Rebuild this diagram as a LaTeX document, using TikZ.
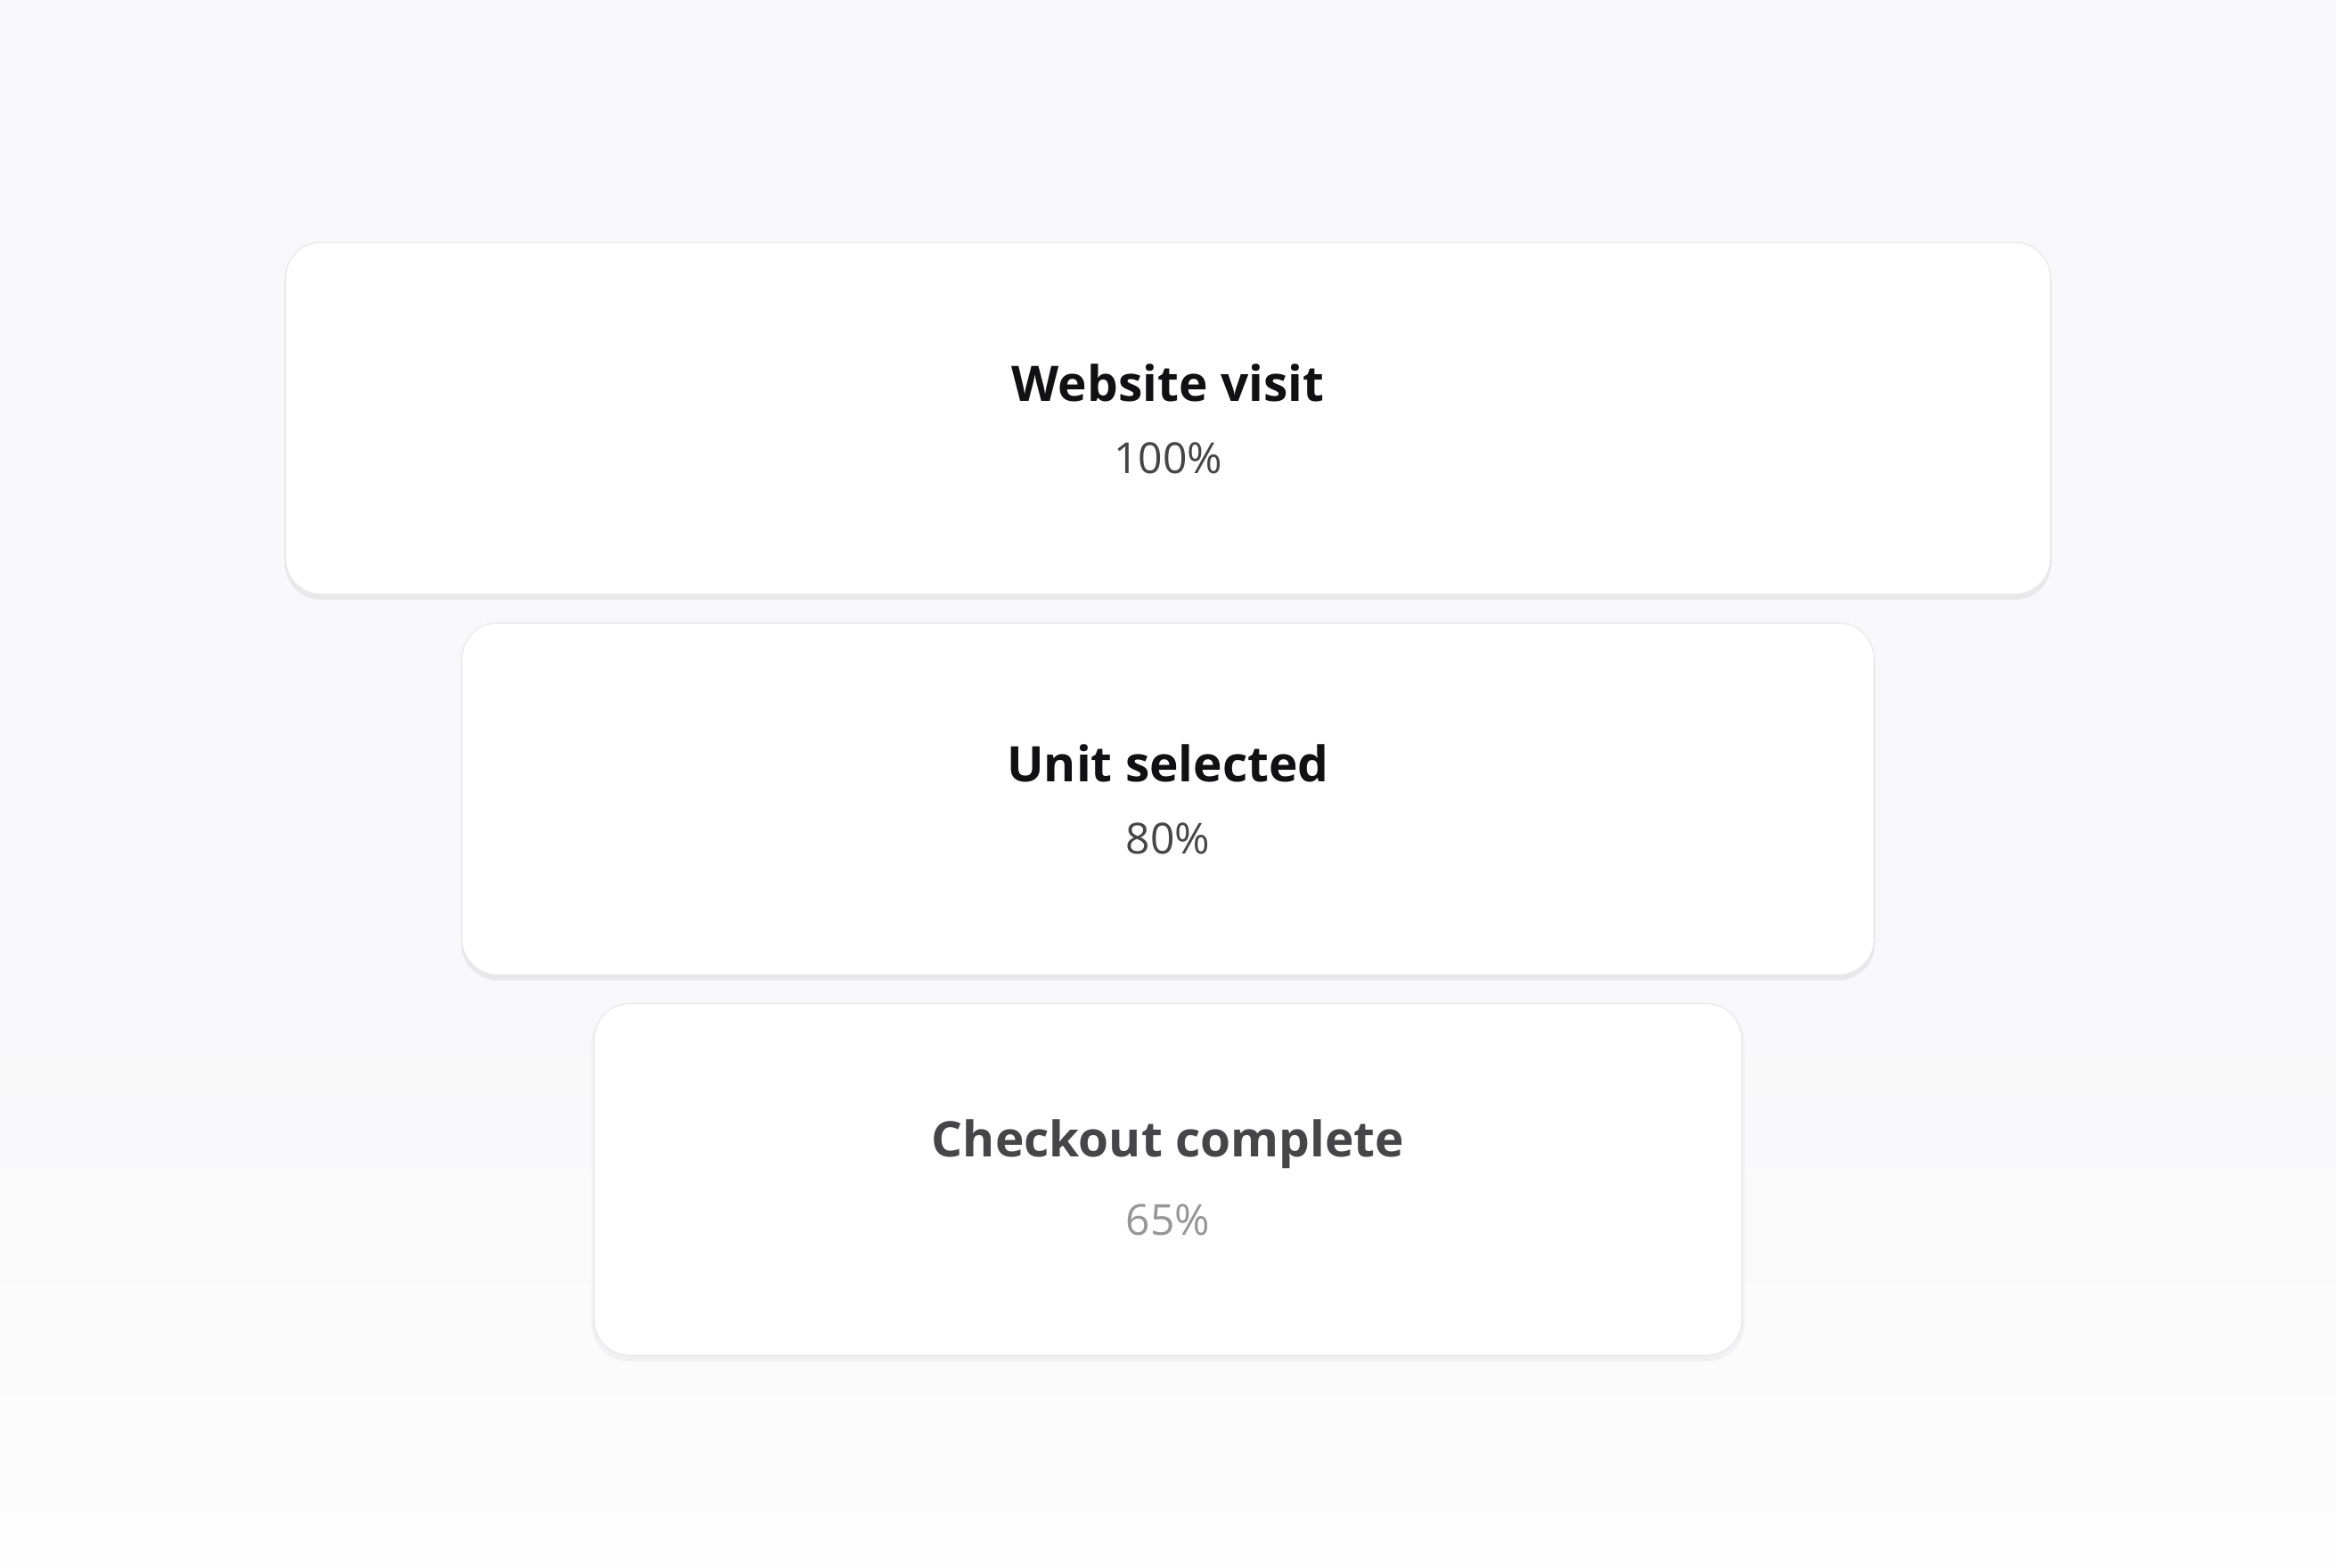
\documentclass[tikz,border=0pt]{standalone}
\usepackage{fontspec}
\setmainfont{Open Sans}
\usetikzlibrary{positioning, calc, shapes}
\definecolor{bgtop}{RGB}{248,248,250}
\definecolor{bgbot}{RGB}{253,253,253}
\definecolor{shade1}{RGB}{232,232,235}
\definecolor{ink}{RGB}{17,17,19}
\definecolor{mid}{RGB}{70,70,72}
\definecolor{soft}{RGB}{150,150,152}
\tikzset{
  stage/.style={draw=shade1, line width=0.6pt, fill=white, rounded corners=20pt,
    minimum height=197.5pt, inner sep=0pt,
    preaction={fill=shade1, draw=shade1, line width=1pt, transform canvas={yshift=-2.5pt}}},
  title/.style={font=\fontsize{27.5}{33}\selectfont\bfseries, text=ink},
  share/.style={font=\fontsize{24}{29}\selectfont, text=mid},
  node distance=15.5pt
}

\begin{document}
\begin{tikzpicture}
    % background
    \fill[bgtop] (0,0) rectangle (1311pt,-880pt);
    \shade[top color=bgtop, bottom color=bgbot] (0,-560pt) rectangle (1311pt,-880pt);
    \useasboundingbox (0,0) rectangle (1311pt,-880pt);

    \node [stage, minimum width=990.5pt] (1) at (655.5pt,-234.75pt) {};
    \node [stage, minimum width=792.5pt, below =of 1] (2) {};
    \node [stage, minimum width=644pt, below =of 2,
      preaction={fill=shade1!60, draw=shade1!60, line width=3pt, transform canvas={yshift=-2pt}}] (3) {};

    \node [title] (1t) at ([yshift=20pt]1.center) {Website visit};
    \node [share] (1p) at ([yshift=-22.5pt]1.center) {100\%};
    \node [title] (2t) at ([yshift=20pt]2.center) {Unit selected};
    \node [share] (2p) at ([yshift=-22.5pt]2.center) {80\%};
    \node [title, text=mid] (3t) at ([yshift=20pt]3.center) {Checkout complete};
    \node [share, text=soft] (3p) at ([yshift=-22.5pt]3.center) {65\%};
\end{tikzpicture}
\end{document}
